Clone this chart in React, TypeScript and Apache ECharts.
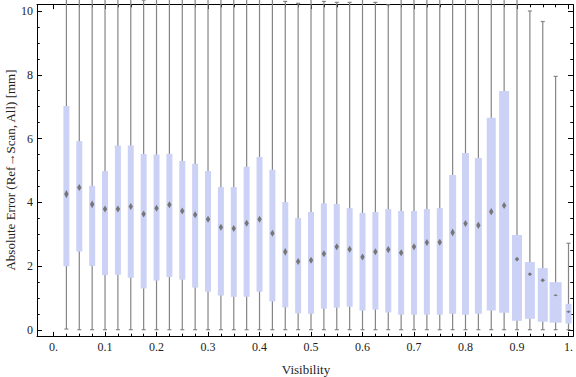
import React, { useEffect, useRef } from "react";
import * as echarts from "echarts";

// Visibility bins (box centres)
const visibility = [
  0.025, 0.05, 0.075, 0.1, 0.125, 0.15, 0.175, 0.2, 0.225, 0.25,
  0.275, 0.3, 0.325, 0.35, 0.375, 0.4, 0.425, 0.45, 0.475, 0.5,
  0.525, 0.55, 0.575, 0.6, 0.625, 0.65, 0.675, 0.7, 0.725, 0.75,
  0.775, 0.8, 0.825, 0.85, 0.875, 0.9, 0.925, 0.95, 0.975, 1.0,
];
// whisker minimum
const whiskerLow = [
  0.03, 0.01, 0.01, 0.01, 0.01, 0.01, 0.01, 0.01, 0.01, 0.01,
  0.01, 0.01, 0.01, 0.01, 0.01, 0.01, 0.01, 0.01, 0.01, 0.01,
  0.01, 0.01, 0.01, 0.01, 0.01, 0.01, 0.01, 0.01, 0.01, 0.01,
  0.01, 0.01, 0.01, 0.01, 0.01, 0.01, 0.01, 0.01, 0.01, 0.01,
];
// lower quartile
const boxLow = [
  2.0, 2.46, 2.01, 1.72, 1.73, 1.64, 1.3, 1.55, 1.66, 1.58,
  1.33, 1.2, 1.08, 1.04, 1.04, 1.2, 0.89, 0.71, 0.52, 0.51,
  0.67, 0.7, 0.73, 0.61, 0.64, 0.55, 0.48, 0.48, 0.48, 0.48,
  0.51, 0.48, 0.51, 0.61, 0.54, 0.29, 0.35, 0.26, 0.23, 0.2,
];
// central marker
const centre = [
  4.26, 4.47, 3.94, 3.79, 3.79, 3.87, 3.64, 3.82, 3.93, 3.73,
  3.61, 3.47, 3.22, 3.18, 3.35, 3.47, 3.03, 2.45, 2.15, 2.19,
  2.39, 2.61, 2.53, 2.29, 2.45, 2.52, 2.42, 2.61, 2.74, 2.75,
  3.06, 3.34, 3.28, 3.71, 3.9, 2.22, 1.75, 1.56, 1.09, 0.57,
];
// upper quartile
const boxHigh = [
  7.02, 5.92, 4.52, 4.98, 5.78, 5.78, 5.52, 5.5, 5.52, 5.3,
  5.21, 4.98, 4.48, 4.48, 5.12, 5.42, 5.02, 4.01, 3.51, 3.7,
  3.97, 3.95, 3.82, 3.67, 3.7, 3.79, 3.73, 3.73, 3.79, 3.82,
  4.86, 5.55, 5.39, 6.65, 7.49, 2.98, 2.13, 1.94, 1.5, 0.82,
];
// whisker maximum (many run past the top of the plot)
const whiskerHigh = [
  14.2, 13.5, 12.8, 13.1, 12.6, 12.9, 10.34, 12.4, 12.7, 12.2,
  12.5, 12.3, 11.9, 12.1, 11.8, 12.4, 11.6, 10.3, 10.24, 11.2,
  10.3, 10.27, 10.27, 11.4, 10.27, 10.19, 11.7, 11.5, 11.3, 11.6,
  12.0, 11.8, 11.5, 11.9, 11.4, 11.1, 10.0, 9.67, 7.95, 2.72,
];
// half height of the central diamond (confidence)
const diamondHalf = [
  0.13, 0.11, 0.12, 0.11, 0.11, 0.11, 0.11, 0.11, 0.11, 0.11,
  0.11, 0.11, 0.11, 0.11, 0.11, 0.11, 0.11, 0.12, 0.11, 0.11,
  0.11, 0.11, 0.11, 0.11, 0.11, 0.115, 0.11, 0.11, 0.11, 0.11,
  0.125, 0.11, 0.11, 0.115, 0.11, 0.075, 0.06, 0.063, 0.028, 0.038,
];
// relative box width
const boxWeight = [
  1, 1, 1, 1, 1, 1, 1, 1, 1, 1,
  1, 1, 1, 1, 1, 1, 1, 1, 1, 1,
  1, 1, 1, 1, 1, 1, 1, 1, 1, 1,
  1.17, 1.17, 1.17, 1.5, 1.67, 1.67, 1.67, 1.67, 2.0, 1.0,
];

const xMajorTicks = [0, 0.1, 0.2, 0.3, 0.4, 0.5, 0.6, 0.7, 0.8, 0.9, 1.0];
const xTickLabels = ["0.", "0.1", "0.2", "0.3", "0.4", "0.5", "0.6", "0.7", "0.8", "0.9", "1."];
const xMinorTicks = [
  0.025, 0.05, 0.075, 0.125, 0.15, 0.175, 0.225, 0.25, 0.275, 0.325, 0.35, 0.375,
  0.425, 0.45, 0.475, 0.525, 0.55, 0.575, 0.625, 0.65, 0.675, 0.725, 0.75, 0.775,
  0.825, 0.85, 0.875, 0.925, 0.95, 0.975,
];
const yMajorTicks = [0, 2, 4, 6, 8, 10];
const yMinorTicks = [0.5, 1, 1.5, 2.5, 3, 3.5, 4.5, 5, 5.5, 6.5, 7, 7.5, 8.5, 9, 9.5];

const FONT = "Liberation Serif";
const X_MIN = -0.0321;
const X_MAX = 1.0087;
const Y_MIN = -0.2;
const Y_MAX = 10.2;
const BASE_BOX_W = 6;

export default function App() {
  const ref = useRef<HTMLDivElement>(null);

  useEffect(() => {
    if (!ref.current) return;
    const chart = echarts.init(ref.current, null, { renderer: "svg" });

    const data = visibility.map((x, i) => [
      x, whiskerLow[i], boxLow[i], centre[i], boxHigh[i], whiskerHigh[i], diamondHalf[i], boxWeight[i],
    ]);

    const frameLine = { show: true, onZero: false, lineStyle: { color: "#000", width: 1 } };
    const noLine = { show: false, onZero: false };
    const noLabel = { show: false };

    const xBase = { type: "value", min: X_MIN, max: X_MAX, gridIndex: 0, splitLine: { show: false } };
    const yBase = { type: "value", min: Y_MIN, max: Y_MAX, gridIndex: 0, splitLine: { show: false } };

    const tick = (vals: number[], len: number) => ({
      show: true, inside: true, length: len, customValues: vals, lineStyle: { color: "#000", width: 1 },
    });

    const option: any = {
      animation: false,
      textStyle: { fontFamily: FONT },
      grid: { left: 37, right: 1.5, top: 4.6, bottom: 377 - 336.4, containLabel: false },
      xAxis: [
        {
          ...xBase, position: "bottom",
          axisLine: frameLine,
          axisTick: tick(xMajorTicks, 4.5),
          axisLabel: {
            show: true, customValues: xMajorTicks, margin: 5,
            fontFamily: FONT, fontSize: 12, color: "#222",
            formatter: (v: number) => {
              let best = 0;
              xMajorTicks.forEach((t, i) => { if (Math.abs(t - v) < Math.abs(xMajorTicks[best] - v)) best = i; });
              return xTickLabels[best];
            },
          },
        },
        { ...xBase, position: "bottom", axisLine: noLine, axisTick: tick(xMinorTicks, 2.7), axisLabel: noLabel },
        { ...xBase, position: "top", axisLine: frameLine, axisTick: tick(xMajorTicks, 4.5), axisLabel: noLabel },
        { ...xBase, position: "top", axisLine: noLine, axisTick: tick(xMinorTicks, 2.7), axisLabel: noLabel },
      ],
      yAxis: [
        {
          ...yBase, position: "left",
          axisLine: frameLine,
          axisTick: tick(yMajorTicks, 5),
          axisLabel: {
            show: true, customValues: yMajorTicks, margin: 4,
            fontFamily: FONT, fontSize: 12, color: "#222",
            formatter: (v: number) => String(Math.round(v)),
          },
        },
        { ...yBase, position: "left", axisLine: noLine, axisTick: tick(yMinorTicks, 2.7), axisLabel: noLabel },
        { ...yBase, position: "right", axisLine: frameLine, axisTick: tick(yMajorTicks, 5), axisLabel: noLabel },
        { ...yBase, position: "right", axisLine: noLine, axisTick: tick(yMinorTicks, 2.7), axisLabel: noLabel },
      ],
      graphic: [
        {
          type: "text", x: 306, y: 369,
          style: { text: "Visibility", fontFamily: FONT, fontSize: 13, fill: "#222", align: "center", verticalAlign: "middle" },
        },
        {
          type: "text", x: 10, y: 170, rotation: Math.PI / 2,
          style: {
            text: "Absolute Error (Ref\u2192Scan, All) [mm]", fontFamily: FONT, fontSize: 13, fill: "#222",
            align: "center", verticalAlign: "middle",
          },
        },
      ],
      series: [
        {
          type: "custom",
          xAxisIndex: 0,
          yAxisIndex: 0,
          clip: false,
          encode: { x: 0, y: [1, 2, 3, 4, 5] },
          data,
          renderItem: (_params: any, api: any) => {
            const x = api.value(0);
            const pLo = api.coord([x, api.value(1)]);
            const pQ1 = api.coord([x, api.value(2)]);
            const pMed = api.coord([x, api.value(3)]);
            const pQ3 = api.coord([x, api.value(4)]);
            const pHi = api.coord([x, api.value(5)]);
            const half = api.size([0, api.value(6)])[1];
            const bw = BASE_BOX_W * api.value(7);
            const cx = pMed[0];
            const ws = { stroke: "#858585", lineWidth: 1.2 };
            return {
              type: "group",
              children: [
                { type: "line", shape: { x1: cx, y1: pLo[1], x2: cx, y2: pHi[1] }, style: ws },
                { type: "line", shape: { x1: cx - 2, y1: pLo[1], x2: cx + 2, y2: pLo[1] }, style: ws },
                { type: "line", shape: { x1: cx - 2, y1: pHi[1], x2: cx + 2, y2: pHi[1] }, style: ws },
                {
                  type: "rect",
                  shape: { x: cx - bw / 2, y: pQ3[1], width: bw, height: pQ1[1] - pQ3[1] },
                  style: { fill: "#cbd2f5" },
                },
                {
                  type: "polygon",
                  shape: {
                    points: [
                      [cx, pMed[1] - half], [cx + 2.2, pMed[1]], [cx, pMed[1] + half], [cx - 2.2, pMed[1]],
                    ],
                  },
                  style: { fill: "#767676" },
                },
              ],
            };
          },
        },
      ],
    };

    chart.setOption(option);
    return () => chart.dispose();
  }, []);

  return (
    <div
      ref={ref}
      style={{ position: "absolute", left: 0, top: 0, width: 576, height: 377, background: "#fff" }}
    />
  );
}
